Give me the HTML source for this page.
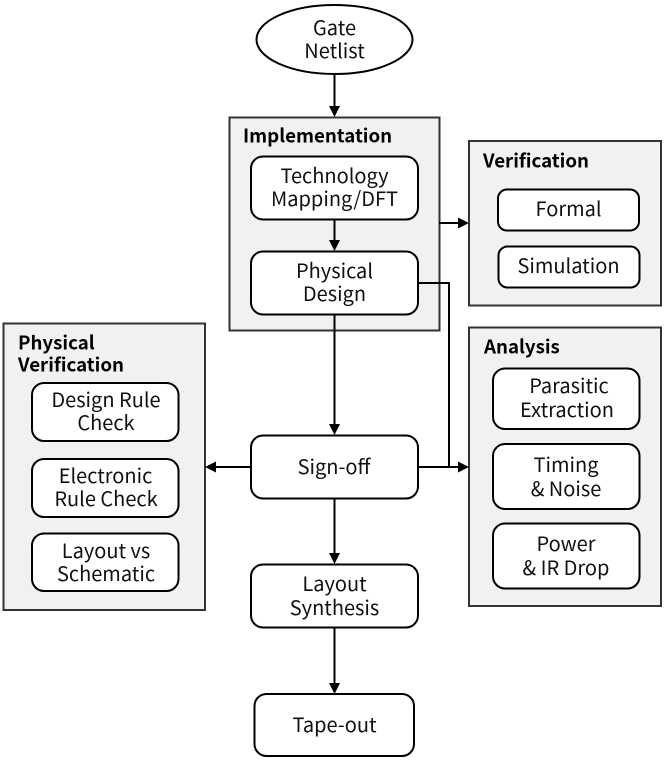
<!DOCTYPE html>
<html><head><meta charset="utf-8"><style>
html,body{margin:0;padding:0;background:#fff;width:665px;height:760px;overflow:hidden}
svg{display:block}
text{font-family:"Noto Sans CJK SC","Liberation Sans",sans-serif;font-size:20px;fill:#111;text-anchor:middle}
text.t{font-weight:700;font-size:18.700px;text-anchor:start;fill:#000}
.g{fill:#f1f1f1;stroke:#333;stroke-width:2}
.b{fill:#fff;stroke:#000;stroke-width:2}
.l{fill:none;stroke:#000;stroke-width:2}
</style></head><body>
<svg width="665" height="760" viewBox="0 0 665 760" xmlns="http://www.w3.org/2000/svg">
<rect class="g" x="229.500" y="117.500" width="210" height="213"/>
<rect class="g" x="469" y="141" width="192" height="164.500"/>
<rect class="g" x="469" y="327.500" width="192" height="278.500"/>
<rect class="g" x="3.500" y="323.500" width="201.500" height="286.500"/>

<path class="l" d="M334.500 74V107M334.500 219V241M334.500 314V425M334.500 498V555M334.500 627V684M439 223H459M418 283H449V467M418 467H459M250 467H215"/>
<path d="M329 106H340L334.500 117Z M329 240H340L334.500 251Z M329 424H340L334.500 435Z M329 553H340L334.500 564Z M329 683H340L334.500 694Z M458 217.500V228.500L469 223Z M458 461.500V472.500L469 467Z M216 461.500V472.500L205 467Z" fill="#000"/>

<ellipse class="b" cx="334.500" cy="39.500" rx="78" ry="34.500"/>
<rect class="b" x="251" y="156.500" width="167" height="63" rx="12"/>
<rect class="b" x="251" y="251.500" width="167" height="63" rx="12"/>
<rect class="b" x="251" y="435.500" width="167" height="63" rx="12"/>
<rect class="b" x="251" y="564.500" width="167" height="63" rx="12"/>
<rect class="b" x="254.500" y="694" width="159.500" height="62" rx="12"/>
<rect class="b" x="498" y="189.500" width="141" height="41" rx="9"/>
<rect class="b" x="498.500" y="246.500" width="141" height="41" rx="9"/>
<rect class="b" x="493" y="368.500" width="146.500" height="60.500" rx="12"/>
<rect class="b" x="493" y="444" width="146.500" height="65" rx="12"/>
<rect class="b" x="493" y="523.500" width="146.500" height="65" rx="12"/>
<rect class="b" x="32" y="383" width="146.500" height="58" rx="12"/>
<rect class="b" x="32" y="459" width="146.500" height="58" rx="12"/>
<rect class="b" x="32" y="533.500" width="146.500" height="57.500" rx="12"/>

<text class="t" x="243" y="142.500">Implementation</text>
<text class="t" x="483" y="167.500">Verification</text>
<text class="t" x="484" y="353.500">Analysis</text>
<text class="t" x="18" y="349.500">Physical</text>
<text class="t" x="18" y="371.500">Verification</text>

<text x="334.500" y="35">Gate</text>
<text x="334.500" y="58">Netlist</text>
<text x="334.500" y="183">Technology</text>
<text x="334.500" y="206">Mapping/DFT</text>
<text x="334.500" y="278">Physical</text>
<text x="334.500" y="301">Design</text>
<text x="334" y="474">Sign-off</text>
<text x="334.500" y="591">Layout</text>
<text x="334.500" y="615">Synthesis</text>
<text x="334.500" y="732">Tape-out</text>
<text x="568.500" y="216">Formal</text>
<text x="568.500" y="273">Simulation</text>
<text x="569" y="393">Parasitic</text>
<text x="567" y="417">Extraction</text>
<text x="566" y="472">Timing</text>
<text x="566" y="496">&amp; Noise</text>
<text x="566" y="551">Power</text>
<text x="566" y="575">&amp; IR Drop</text>
<text x="106" y="407">Design Rule</text>
<text x="106" y="430">Check</text>
<text x="105.500" y="483">Electronic</text>
<text x="106" y="506">Rule Check</text>
<text x="106" y="558">Layout vs</text>
<text x="106" y="581">Schematic</text>
</svg>
</body></html>
